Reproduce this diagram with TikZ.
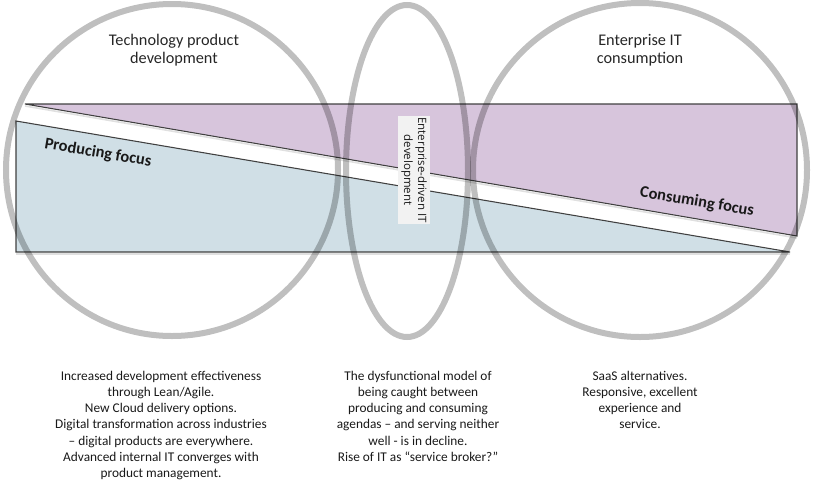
\documentclass[tikz,border=0pt]{standalone}
\usepackage{fontspec}
\setmainfont{Carlito}
\newfontfamily\labelfont{Open Sans}
\definecolor{purplefill}{HTML}{D7C5DC}
\definecolor{bluefill}{HTML}{D0DFE6}
\definecolor{labelbg}{HTML}{F2F2F2}
\definecolor{edgecol}{HTML}{404040}
\begin{document}
\begin{tikzpicture}[x=0.75pt,y=-0.75pt,
  ring/.style={draw=black, draw opacity=0.25, line width=4.5pt},
  edgeline/.style={draw=edgecol, line width=0.8pt},
  shade/.style={draw=black!12, line width=1.2pt},
  title/.style={font=\fontsize{12.2}{13.8}\selectfont, align=center, text=black!85},
  focus/.style={font=\fontsize{12.3}{14}\selectfont\bfseries, text=black!90},
  body/.style={font=\fontsize{10}{12.1}\selectfont, align=center, anchor=north, inner sep=0pt, text=black!90}]
\useasboundingbox (0,0) rectangle (814,483);
% shadows
\draw[shade] (25,106) -- (797,238);
\draw[shade] (16,122.5) -- (790,254);
\draw[shade] (16,254) -- (790,254);
% filled shapes
\fill[purplefill] (25,104) -- (797,104) -- (797,236) -- cycle;
\fill[bluefill] (16,121) -- (790,252) -- (16,252) -- cycle;
\draw[edgeline] (25,104) -- (797,104) -- (797,236) -- cycle;
\draw[edgeline] (16,121) -- (790,252) -- (16,252) -- cycle;
% label box
\node[fill=labelbg, minimum width=81pt, minimum height=24pt, inner sep=0pt,
  rotate=-90, align=center, font=\labelfont\fontsize{8.6}{10.5}\selectfont, text=black!90] (mid) at (414,170)
  {Enterprise-driven IT\\development};
% focus labels
\node[focus, rotate=-9.7] (prod) at (98,153) {Producing focus};
\node[focus, rotate=-9.7] (cons) at (697,202) {Consuming focus};
% rings
\draw[ring] (172,170) circle[radius=166];
\draw[ring] (407,171) ellipse[x radius=61, y radius=166];
\draw[ring] (640,170) circle[radius=167];
% titles
\node[title] (t1) at (174,50) {Technology product\\development};
\node[title] (t2) at (640,50) {Enterprise IT\\consumption};
% bottom texts
\node[body] (b1) at (161,371) {Increased development effectiveness\\through Lean/Agile.\\New Cloud delivery options.\\Digital transformation across industries\\-- digital products are everywhere.\\Advanced internal IT converges with\\product management.};
\node[body] (b2) at (418,371) {The dysfunctional model of\\being caught between\\producing and consuming\\agendas -- and serving neither\\well - is in decline.\\Rise of IT as ``service broker?''};
\node[body] (b3) at (640,371) {SaaS alternatives.\\Responsive, excellent\\experience and\\service.};
\end{tikzpicture}
\end{document}
